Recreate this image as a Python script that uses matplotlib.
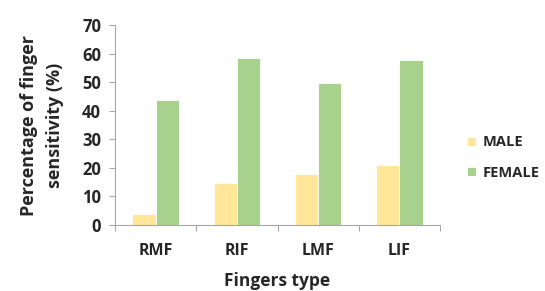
import matplotlib
matplotlib.use("Agg")
import matplotlib.pyplot as plt
import numpy as np

categories = ["RMF", "RIF", "LMF", "LIF"]
male = [4, 14.8, 18, 20.9]
female = [43.7, 58.5, 49.6, 57.7]
series_names = ["MALE", "FEMALE"]
yticks = [0, 10, 20, 30, 40, 50, 60, 70]

plt.rcParams['font.family'] = ['Open Sans', 'DejaVu Sans']

fig = plt.figure(figsize=(5.45, 2.91), dpi=100)
ax = fig.add_axes([115/545, 1-225/291, 325/545, 200/291])

x = np.arange(len(categories))
w = 0.285
c_male = "#FFE699"
c_female = "#A9D18E"
ax.bar(x - w/2, male, w, color=c_male, edgecolor="white", linewidth=0.6, label=series_names[0])
ax.bar(x + w/2, female, w, color=c_female, edgecolor="white", linewidth=0.6, label=series_names[1])

ax.set_xlim(-0.5, len(categories) - 0.5)
ax.set_ylim(0, 70)
ax.set_yticks(yticks)
ax.set_yticklabels([str(v) for v in yticks], fontsize=12, fontweight="bold", color="#262626")
ax.set_xticks(x)
ax.set_xticklabels(categories, fontsize=11.5, fontweight="bold", color="#262626")
ax.set_xticks(np.arange(-0.5, len(categories), 1), minor=True)
ax.tick_params(axis="x", which="major", length=0, pad=13)
ax.tick_params(axis="x", which="minor", length=4, color="#A6A6A6", width=0.8)
ax.tick_params(axis="y", length=4, color="#A6A6A6", width=0.8, pad=6)

for s in ["top", "right"]:
    ax.spines[s].set_visible(False)
for s in ["left", "bottom"]:
    ax.spines[s].set_color("#A6A6A6")
    ax.spines[s].set_linewidth(0.8)

ax.set_xlabel("Fingers type", fontsize=12.5, fontweight="bold", color="#262626", labelpad=9)
ax.set_ylabel("Percentage of finger\nsensitivity (%)", fontsize=13, fontweight="bold",
              color="#262626", labelpad=13, linespacing=1.6)

leg = fig.legend(loc="center left", bbox_to_anchor=(467/545, 1-157.5/291), frameon=False,
                 prop={"size": 10.5, "weight": "bold"}, handlelength=0.6, handleheight=0.6,
                 handletextpad=0.45, labelspacing=1.1, borderpad=0, borderaxespad=0)
for t in leg.get_texts():
    t.set_color("#262626")

fig.savefig("out.png", dpi=100)
